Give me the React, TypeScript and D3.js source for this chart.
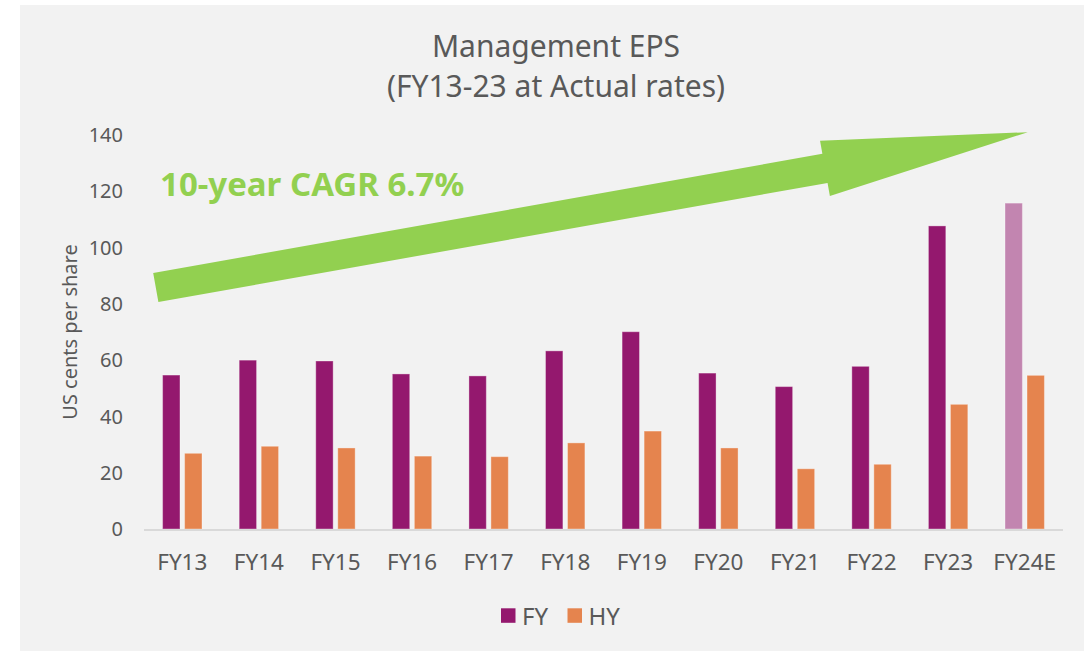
import React, { useEffect, useRef } from 'react';
import * as d3 from 'd3';

const categories = ["FY13", "FY14", "FY15", "FY16", "FY17", "FY18", "FY19", "FY20", "FY21", "FY22", "FY23", "FY24E"];
const fyValues = [54.7, 60.0, 59.7, 55.1, 54.4, 63.3, 70.1, 55.4, 50.6, 57.8, 107.7, 115.8];
const hyValues = [26.9, 29.4, 28.8, 25.9, 25.7, 30.6, 34.8, 28.8, 21.4, 23.0, 44.3, 54.6];
const seriesNames = ["FY", "HY"];
const yTicks = [0, 20, 40, 60, 80, 100, 120, 140];
const estimateCategory = "FY24E";
const titleLines = ["Management EPS", "(FY13-23 at Actual rates)"];
const cagrLabel = "10-year CAGR 6.7%";
// arrow runs from the left of FY13 up to the middle of FY24E (in chart units)
const arrowFrom = { category: "FY13", frac: 0.154, value: 85.8 };
const arrowTo = { category: "FY24E", frac: 0.54, value: 141 };

const App = () => {
    const svgRef = useRef<SVGSVGElement>(null);

    useEffect(() => {
        const width = 1084;
        const height = 651;
        const marginLeft = 144;
        const marginRight = 21;
        const yTop = 135;
        const yBottom = 529;
        const font = "'Noto Sans', sans-serif";
        const textColor = "#595959";
        const colors = { FY: "#94186e", HY: "#e5844e", estimate: "#c285b0" };
        const green = "#92d050";

        const svg = d3.select(svgRef.current)
            .attr("width", width)
            .attr("height", height)
            .attr("viewBox", [0, 0, width, height].join(" "))
            .style("font-family", font);
        svg.selectAll("*").remove();

        svg.append("rect")
            .attr("x", 20).attr("y", 5)
            .attr("width", width - 20).attr("height", height - 5)
            .attr("fill", "#f2f2f2");

        const data = categories.map((c, i) => ({ category: c, FY: fyValues[i], HY: hyValues[i] }));

        const x = d3.scaleBand()
            .domain(categories)
            .range([marginLeft, width - marginRight]);

        const bw = x.bandwidth();
        const xs = d3.scaleBand()
            .domain(seriesNames)
            .range([bw / 2 - 19.7, bw / 2 + 19.7])
            .paddingInner(0.21);

        const y = d3.scaleLinear()
            .domain([0, 140])
            .range([yBottom, yTop]);

        // title
        svg.append("g")
            .attr("fill", textColor)
            .attr("font-size", 30)
            .attr("text-anchor", "middle")
            .selectAll("text")
            .data(titleLines)
            .join("text")
            .attr("x", 556)
            .attr("y", (d, i) => 57 + i * 40)
            .text(d => d);

        // y axis labels
        svg.append("g")
            .attr("fill", textColor)
            .attr("font-size", 20)
            .attr("text-anchor", "end")
            .selectAll("text")
            .data(yTicks)
            .join("text")
            .attr("x", 123)
            .attr("y", d => y(d))
            .attr("dy", "0.36em")
            .text(d => d);

        svg.append("text")
            .attr("transform", `translate(77,${(yTop + yBottom) / 2 - 0}) rotate(-90)`)
            .attr("fill", textColor)
            .attr("font-size", 20)
            .attr("text-anchor", "middle")
            .text("US cents per share");

        // bars
        const groups = svg.append("g")
            .selectAll("g")
            .data(data)
            .join("g")
            .attr("transform", d => `translate(${x(d.category)},0)`);

        groups.selectAll("rect")
            .data(d => seriesNames.map(s => ({ key: s, value: (d as any)[s], category: d.category })))
            .join("rect")
            .attr("x", d => xs(d.key)!)
            .attr("y", d => y(d.value))
            .attr("width", xs.bandwidth())
            .attr("height", d => y(0) - y(d.value))
            .attr("fill", d => d.key === "FY" && d.category === estimateCategory ? colors.estimate : (colors as any)[d.key])
            .attr("stroke", "rgba(255,255,255,0.35)")
            .attr("stroke-width", 1);

        // x axis line
        svg.append("line")
            .attr("x1", marginLeft).attr("x2", width - marginRight)
            .attr("y1", y(0) + 1).attr("y2", y(0) + 1)
            .attr("stroke", "#d9d9d9")
            .attr("stroke-width", 2);

        svg.append("g")
            .attr("fill", textColor)
            .attr("font-size", 22.5)
            .attr("text-anchor", "middle")
            .selectAll("text")
            .data(categories)
            .join("text")
            .attr("x", d => x(d)! + bw / 2)
            .attr("y", 570)
            .text(d => d);

        // arrow
        const tail: [number, number] = [x(arrowFrom.category)! + bw * arrowFrom.frac, y(arrowFrom.value)];
        const tip: [number, number] = [x(arrowTo.category)! + bw * arrowTo.frac, y(arrowTo.value)];
        const dx = tip[0] - tail[0], dy = tip[1] - tail[1];
        const len = Math.hypot(dx, dy);
        const u = [dx / len, dy / len];
        const n = [-u[1], u[0]];
        const shaftHalf = 14.8, headLen = 206, headHalf = 28;
        const base = [tip[0] - u[0] * headLen, tip[1] - u[1] * headLen];
        const pt = (p: number[], k: number) => [p[0] + n[0] * k, p[1] + n[1] * k];
        const arrowPts = [
            pt(tail, shaftHalf), pt(base, shaftHalf), pt(base, headHalf), tip,
            pt(base, -headHalf), pt(base, -shaftHalf), pt(tail, -shaftHalf)
        ];
        svg.append("polygon")
            .attr("points", arrowPts.map(p => p.join(",")).join(" "))
            .attr("fill", green);

        svg.append("text")
            .attr("x", 160)
            .attr("y", 196)
            .attr("fill", green)
            .attr("font-size", 33)
            .attr("font-weight", "bold")
            .text(cagrLabel);

        // legend
        const legend = svg.append("g")
            .selectAll("g")
            .data(seriesNames)
            .join("g")
            .attr("transform", (d, i) => `translate(${501 + i * 66.5},608.3)`);
        legend.append("rect")
            .attr("width", 14.5).attr("height", 14.5)
            .attr("fill", d => (colors as any)[d]);
        legend.append("text")
            .attr("x", 21)
            .attr("y", 16.7)
            .attr("fill", textColor)
            .attr("font-size", 24)
            .text(d => d);
    }, []);

    return <svg ref={svgRef} style={{ position: "absolute", left: 0, top: 0 }}></svg>;
};

export default App;
